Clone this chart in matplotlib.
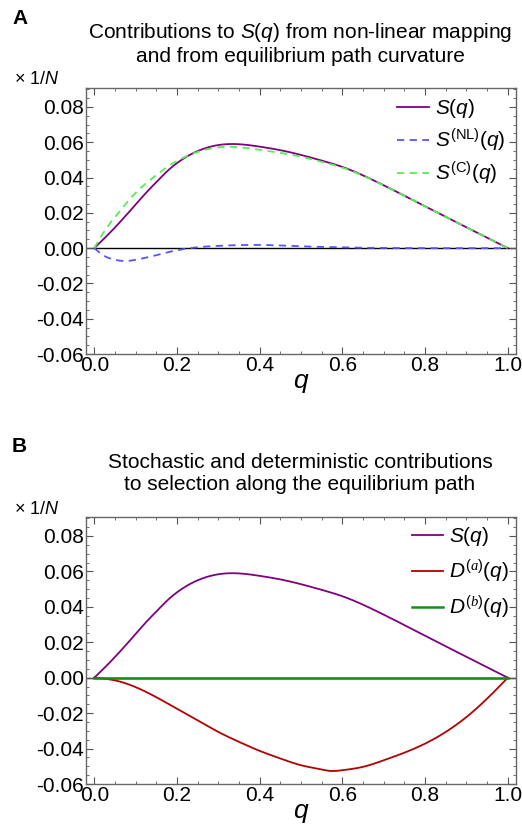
import matplotlib
matplotlib.use("Agg")
import matplotlib.pyplot as plt
import numpy as np
from matplotlib.ticker import MultipleLocator

plt.rcParams['font.family'] = ['Liberation Sans', 'DejaVu Sans']
plt.rcParams['mathtext.fontset'] = 'custom'
plt.rcParams['mathtext.rm'] = 'Liberation Sans'
plt.rcParams['mathtext.it'] = 'Liberation Sans:italic'
plt.rcParams['mathtext.cal'] = 'Liberation Serif:italic'

# values (units of 1/N)
q = [0.0, 0.025, 0.05, 0.075, 0.1, 0.125, 0.15, 0.175, 0.2, 0.25, 0.3, 0.333,
     0.4, 0.45, 0.5, 0.55, 0.6, 0.65, 0.7, 0.8, 0.9, 0.95, 1.0]
S = [0.0, 0.0057, 0.0117, 0.0181, 0.0247, 0.0313, 0.0374, 0.0433, 0.0482, 0.0550,
     0.0584, 0.0590, 0.0575, 0.0555, 0.0528, 0.0496, 0.0460, 0.0412, 0.0356,
     0.0237, 0.0118, 0.0059, 0.0]
S_NL = [0.0, -0.0045, -0.0066, -0.0073, -0.0066, -0.0054, -0.0040, -0.0025, -0.0012,
        0.0005, 0.0013, 0.0016, 0.0018, 0.0015, 0.0010, 0.0007, 0.0004, 0.0002,
        0.0001, 0.0, 0.0, 0.0, 0.0]
S_C = [0.0, 0.0098, 0.0176, 0.0248, 0.0313, 0.0367, 0.0414, 0.0458, 0.0494, 0.0545,
       0.0571, 0.0574, 0.0557, 0.0540, 0.0518, 0.0489, 0.0456, 0.0410, 0.0355,
       0.0237, 0.0118, 0.0059, 0.0]

qd = [0.0, 0.05, 0.1, 0.15, 0.2, 0.25, 0.3, 0.35, 0.4, 0.45, 0.5, 0.55, 0.57,
      0.6, 0.65, 0.7, 0.75, 0.8, 0.85, 0.9, 0.95, 1.0]
D_a = [0.0, -0.0015, -0.0053, -0.011, -0.0175, -0.024, -0.0306, -0.0362, -0.0413,
       -0.0456, -0.0494, -0.0518, -0.0526, -0.0522, -0.0503, -0.0466, -0.0423,
       -0.0372, -0.0306, -0.0222, -0.0118, 0.0]
D_b = [0.0] * len(qd)


def spline(xs, ys, n=500):
    # natural cubic spline through the read-off points
    xs = np.asarray(xs, float)
    ys = np.asarray(ys, float)
    m = len(xs)
    h = np.diff(xs)
    A = np.zeros((m, m))
    r = np.zeros(m)
    A[0, 0] = A[-1, -1] = 1
    for i in range(1, m - 1):
        A[i, i - 1] = h[i - 1]
        A[i, i] = 2 * (h[i - 1] + h[i])
        A[i, i + 1] = h[i]
        r[i] = 6 * ((ys[i + 1] - ys[i]) / h[i] - (ys[i] - ys[i - 1]) / h[i - 1])
    M = np.linalg.solve(A, r)
    xx = np.linspace(xs[0], xs[-1], n)
    idx = np.clip(np.searchsorted(xs, xx) - 1, 0, m - 2)
    x0, x1 = xs[idx], xs[idx + 1]
    hh = x1 - x0
    t0, t1 = x1 - xx, xx - x0
    yy = (M[idx] * t0 ** 3 + M[idx + 1] * t1 ** 3) / (6 * hh) \
        + (ys[idx] / hh - M[idx] * hh / 6) * t0 \
        + (ys[idx + 1] / hh - M[idx + 1] * hh / 6) * t1
    return xx, yy


def style(ax):
    ax.set_xlim(-0.02, 1.02)
    ax.set_ylim(-0.06, 0.0907)
    ax.xaxis.set_minor_locator(MultipleLocator(0.05))
    ax.yaxis.set_minor_locator(MultipleLocator(0.005))
    ax.set_yticks([-0.06, -0.04, -0.02, 0.0, 0.02, 0.04, 0.06, 0.08])
    ax.set_yticklabels(['-0.06', '-0.04', '-0.02', '0.00', '0.02', '0.04', '0.06', '0.08'])
    ax.set_xticks([0.0, 0.2, 0.4, 0.6, 0.8, 1.0])
    ax.set_xticklabels(['0.0', '0.2', '0.4', '0.6', '0.8', '1.0'])
    ax.tick_params(which='both', direction='in', top=True, right=True,
                   color='#555555', labelsize=15, pad=1.5)
    ax.tick_params(which='major', length=5, width=0.8)
    ax.tick_params(which='minor', length=2.5, width=0.6)
    for sp in ax.spines.values():
        sp.set_color('#666666')
        sp.set_linewidth(1.0)
    ax.axhline(0, color='black', lw=1.0, zorder=1)
    ax.set_xlabel('$q$', fontsize=19, labelpad=-3)


fig = plt.figure(figsize=(5.22, 8.33), dpi=100)

# panel A
ax1 = fig.add_axes([0.1648, 0.575, 0.8238, 0.3193])
style(ax1)
x, y = spline(q, S)
ax1.plot(x, y, color='#800080', lw=1.3, label='$S(q)$', zorder=3)
x, y = spline(q, S_NL)
ax1.plot(x, y, color='#5555ff', lw=1.3, ls=(0, (4, 3)), label=r'$S^{\rm (NL)}(q)$', zorder=4)
x, y = spline(q, S_C)
ax1.plot(x, y, color='#55ee55', lw=1.3, ls=(0, (4, 3)), label=r'$S^{\rm (C)}(q)$', zorder=4)
ax1.legend(loc='upper right', bbox_to_anchor=(0.975, 0.965), frameon=False,
           fontsize=15, handlelength=1.5, handletextpad=0.3, labelspacing=0.3,
           borderpad=0, borderaxespad=0)

fig.text(12 / 522, 1 - 18 / 833, 'A', fontsize=15, fontweight='bold', va='center')
fig.text(300 / 522, 1 - 44 / 833,
         'Contributions to $S$($q$) from non-linear mapping\nand from equilibrium path curvature',
         fontsize=15, ha='center', va='center', linespacing=1.2)
fig.text(14 / 522, 1 - 80 / 833, '× 1/$N$', fontsize=13, va='center')

# panel B
ax2 = fig.add_axes([0.1648, 0.0588, 0.8238, 0.3205])
style(ax2)
x, y = spline(q, S)
ax2.plot(x, y, color='#800080', lw=1.3, label='$S(q)$', zorder=3)
x, y = spline(qd, D_a)
ax2.plot(x, y, color='#b30000', lw=1.3, label=r'$D^{(\mathcal{a})}(q)$', zorder=3)
ax2.plot(qd, D_b, color='#1a8c1a', lw=1.8, label=r'$D^{(\mathcal{b})}(q)$', zorder=3)
ax2.legend(loc='upper right', bbox_to_anchor=(0.985, 0.97), frameon=False,
           fontsize=15, handlelength=1.5, handletextpad=0.3, labelspacing=0.45,
           borderpad=0, borderaxespad=0)

fig.text(12 / 522, 1 - 447 / 833, 'B', fontsize=15, fontweight='bold', va='center')
fig.text(300 / 522, 1 - 473 / 833,
         'Stochastic and deterministic contributions\nto selection along the equilibrium path',
         fontsize=15, ha='center', va='center', linespacing=1.2)
fig.text(14 / 522, 1 - 509 / 833, '× 1/$N$', fontsize=13, va='center')

fig.savefig('out.png', dpi=100)
